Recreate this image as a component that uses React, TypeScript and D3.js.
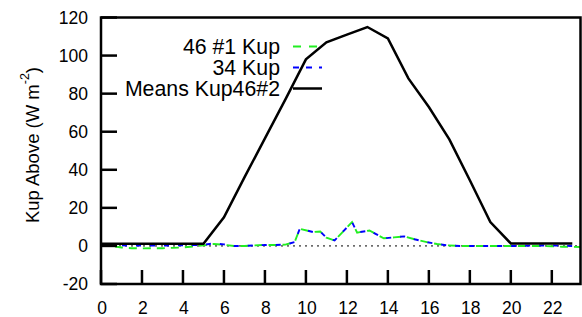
import React from "react";
import * as d3 from "d3";

// hourly means (black line)
const meanHours = [0, 1, 2, 3, 4, 5, 6, 7, 8, 9, 10, 11, 12, 13, 14, 15, 16, 17, 18, 19, 20, 21, 22, 23];
const meanKup46 = [1.2, 1.2, 1.2, 1.2, 1.2, 1.2, 15, 36, 56.5, 77, 98, 107, 111, 115, 109, 88, 73, 56, 34.5, 12.5, 1.3, 1.3, 1.3, 1.3];

// finer resolution series
const kupHours = [0, 0.5, 1, 1.5, 2, 2.5, 3, 3.5, 4, 4.5, 5, 5.5, 6, 6.5, 7, 7.5, 8, 8.5, 9, 9.45, 9.7, 10.35, 10.7, 11.0, 11.4, 12.25, 12.5, 13.1, 13.8, 14.3, 14.8, 15.3, 15.9, 16.4, 16.9, 17.5, 18, 18.5, 19, 19.5, 20, 20.5, 21, 21.5, 22, 22.5, 23, 23.4];
const kup46 = [0.3, 0, -0.8, -1.2, -1.3, -1.2, -1.2, -1, -0.8, -0.3, 0.3, 1, 0.6, 0, 0, 0.3, 0.5, 0.5, 0.7, 2, 9, 7.3, 7.6, 4.3, 2.9, 12.5, 7, 8.1, 4, 4.5, 5, 3.5, 2, 1, 0.3, 0, 0, 0, 0, 0, 0, 0, 0, 0, -0.2, -0.4, -0.5, -0.6];
const kup34 = [0.4, 0.3, 0.3, 0.2, 0.2, 0.2, 0.2, 0.3, 0.3, 0.4, 0.6, 1.3, 0.8, 0, 0, 0.3, 0.5, 0.5, 0.7, 2, 9, 7.3, 7.6, 4.3, 2.9, 12.5, 7, 8.1, 4, 4.5, 5, 3.5, 2, 1, 0.3, 0, 0, 0, 0, 0, 0, 0, 0.2, 0.2, 0.2, 0.1, 0, 0];

const xTicks = [0, 2, 4, 6, 8, 10, 12, 14, 16, 18, 20, 22];
const yTicks = [-20, 0, 20, 40, 60, 80, 100, 120];

const legendItems = [
  { label: "46 #1 Kup", color: "#22ee22", dash: "8,8" },
  { label: "34 Kup", color: "#0000ff", dash: "6,7" },
  { label: "Means Kup46#2", color: "#000000", dash: "" },
];

const font = "'Liberation Sans', Arial, Helvetica, sans-serif";

export default function App() {
  const width = 582;
  const height = 317;
  const x = d3.scaleLinear().domain([0, 23.4]).range([101, 580.5]);
  const y = d3.scaleLinear().domain([-20, 120]).range([284, 17.5]);

  const line = d3.line<[number, number]>().x(d => x(d[0])).y(d => y(d[1]));
  const meanPath = line(meanHours.map((h, i) => [h, meanKup46[i]]));
  const p46 = line(kupHours.map((h, i) => [h, kup46[i]]));
  const p34 = line(kupHours.map((h, i) => [h, kup34[i]]));

  const [x0, x1] = x.range();
  const [yb, yt] = y.range();

  return (
    <svg width={width} height={height} style={{ position: "absolute", left: 0, top: 0 }} fontFamily={font}>
      <rect width={width} height={height} fill="#fff" />
      {/* zero line */}
      <line x1={x0} x2={x1} y1={y(0)} y2={y(0)} stroke="#000" strokeWidth={1} strokeDasharray="2,4" />

      <path d={p46 || ""} fill="none" stroke="#22ee22" strokeWidth={1.9} strokeDasharray="8,6" />
      <path d={p34 || ""} fill="none" stroke="#0000ff" strokeWidth={1.9} strokeDasharray="5,9" strokeDashoffset={-7} />
      <path d={meanPath || ""} fill="none" stroke="#000" strokeWidth={2.5} strokeLinejoin="miter" />

      {/* frame */}
      <rect x={x0} y={yt} width={x1 - x0} height={yb - yt} fill="none" stroke="#000" strokeWidth={2.5} />

      {/* ticks */}
      {xTicks.map(t => (
        <g key={"x" + t}>
          <line x1={x(t)} x2={x(t)} y1={yb} y2={yb - 14} stroke="#000" strokeWidth={2.5} />
          <text x={x(t) + 1} y={yb + 24} fontSize={17.5} textAnchor="middle" dominantBaseline="central">{t}</text>
        </g>
      ))}
      {yTicks.map(t => (
        <g key={"y" + t}>
          <line x1={x0} x2={x0 + 16} y1={y(t)} y2={y(t)} stroke="#000" strokeWidth={2.5} />
          <text x={88} y={y(t)} fontSize={17.5} textAnchor="end" dominantBaseline="central">{t}</text>
        </g>
      ))}

      {/* y title */}
      <text transform="translate(32,145) rotate(-90)" fontSize={18.5} textAnchor="middle" dominantBaseline="central">
        Kup Above (W m<tspan fontSize={12.5} dy={-7}>-2</tspan><tspan dy={7}>)</tspan>
      </text>

      {/* legend */}
      {legendItems.map((d, i) => {
        const ly = 46.5 + i * 21;
        return (
          <g key={d.label}>
            <text x={280} y={ly} fontSize={21.3} textAnchor="end" dominantBaseline="central">{d.label}</text>
            <line x1={293} x2={322} y1={ly} y2={ly} stroke={d.color} strokeWidth={d.dash ? 1.8 : 2.5} strokeDasharray={d.dash} />
          </g>
        );
      })}
    </svg>
  );
}
